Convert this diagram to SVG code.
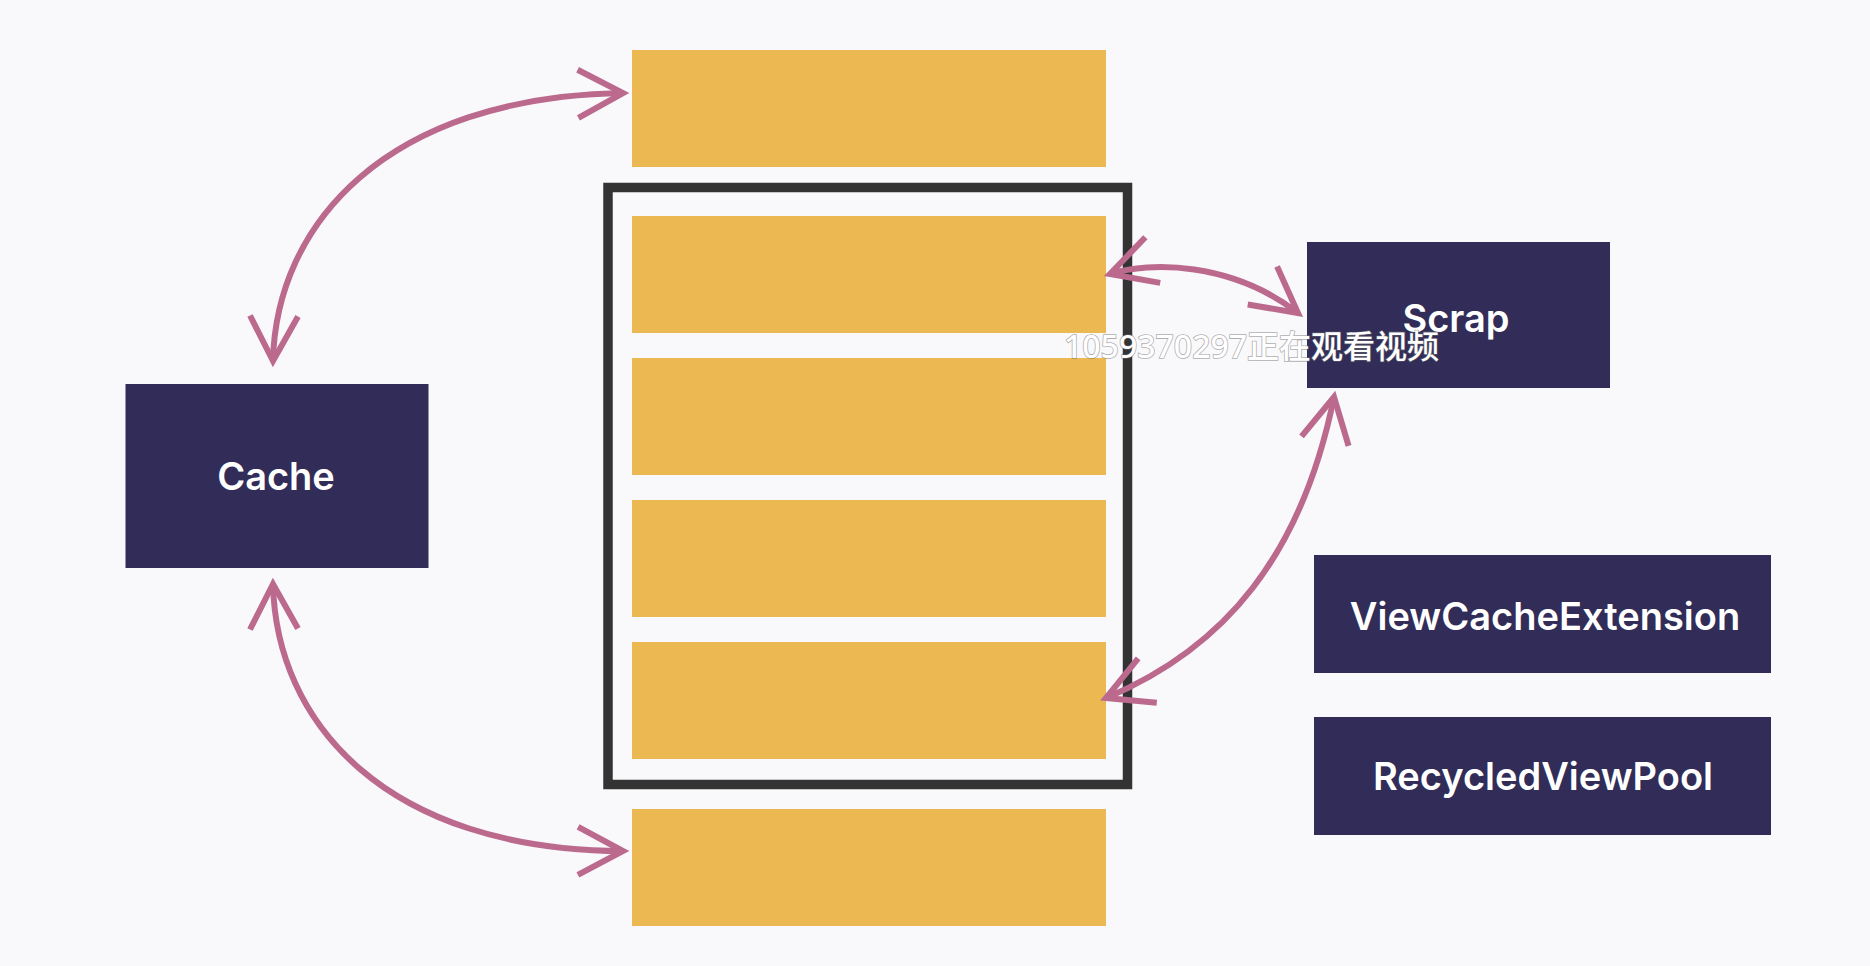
<svg xmlns="http://www.w3.org/2000/svg" width="1870" height="966" viewBox="0 0 1870 966">
  <defs>
    <style>
      .bg { fill: #F9F8FA; }
      .item { fill: #EBB852; }
      .frame { fill: none; stroke: #333333; stroke-width: 9.5; }
      .box { fill: #312D58; }
      .label { fill: #FFFFFF; font-family: Inter, "Liberation Sans", sans-serif; font-weight: 600; font-size: 38px; text-anchor: middle; }
      .conn { fill: none; stroke: #BB6A8E; stroke-width: 6; }
      .head { fill: none; stroke: #BB6A8E; stroke-width: 6; stroke-linejoin: miter; stroke-miterlimit: 10; }
      .wm { fill: #FFFFFF; stroke: #6E6E6E; stroke-width: 1.6; stroke-opacity: 0.55; paint-order: stroke; font-family: "Noto Sans", "Noto Sans CJK SC", sans-serif; font-weight: 500; font-size: 32px; }
    </style>
    <marker id="chev" markerUnits="userSpaceOnUse" orient="auto-start-reverse" refX="0" refY="0" markerWidth="80" markerHeight="80" overflow="visible">
      <path class="head" d="M -45 -24 L 0 0 L -45 24"/>
    </marker>
  </defs>

  <rect class="bg" x="0" y="0" width="1870" height="966"/>

  <g id="viewport">
    <rect class="frame" x="608" y="187.5" width="519.5" height="597"/>
  </g>
  <g id="item-top"><rect class="item" x="632" y="50" width="474" height="117"/></g>
  <g id="item-1"><rect class="item" x="632" y="216" width="474" height="117"/></g>
  <g id="item-2"><rect class="item" x="632" y="358" width="474" height="117"/></g>
  <g id="item-3"><rect class="item" x="632" y="500" width="474" height="117"/></g>
  <g id="item-4"><rect class="item" x="632" y="642" width="474" height="117"/></g>
  <g id="item-bottom"><rect class="item" x="632" y="809" width="474" height="117"/></g>

  <g id="cache">
    <rect class="box" x="125.5" y="384" width="303" height="184"/>
    <text class="label" x="276" y="490">Cache</text>
  </g>
  <g id="scrap">
    <rect class="box" x="1307" y="242" width="303" height="146"/>
    <text class="label" x="1456" y="332">Scrap</text>
  </g>
  <g id="viewcacheextension">
    <rect class="box" x="1314" y="555" width="457" height="118"/>
    <text class="label" x="1545" y="630">ViewCacheExtension</text>
  </g>
  <g id="recycledviewpool">
    <rect class="box" x="1314" y="717" width="457" height="118"/>
    <text class="label" x="1543" y="790">RecycledViewPool</text>
  </g>

  <g id="connectors">
    <path class="conn" marker-start="url(#chev)" marker-end="url(#chev)" d="M 273 361 C 276 225, 385 97, 623 93"/>
    <path class="conn" marker-start="url(#chev)" marker-end="url(#chev)" d="M 273 584 C 276 722, 385 850, 623 851"/>
    <path class="conn" marker-start="url(#chev)" marker-end="url(#chev)" d="M 1110 274 C 1150 261, 1232 262, 1298 313"/>
    <path class="conn" marker-start="url(#chev)" marker-end="url(#chev)" d="M 1106 698 C 1225 648, 1302 555, 1334 397"/>
  </g>

  <text class="wm" x="1064" y="358">1059370297正在观看视频</text>
</svg>
